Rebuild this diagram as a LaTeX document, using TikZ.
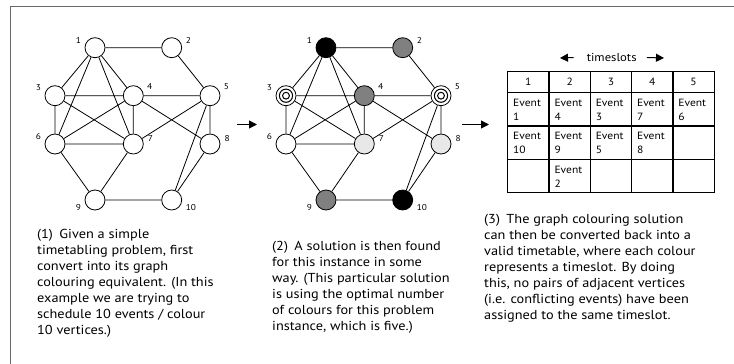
\documentclass[tikz,border=0pt]{standalone}
\usepackage{fontspec}
\setmainfont[FakeStretch=1.1]{PT Sans}
\usepackage{tikz}
\usetikzlibrary{arrows.meta,positioning,calc}
\definecolor{FrameGray}{RGB}{105,105,105}
\definecolor{MidGray}{RGB}{128,128,128}
\definecolor{PaleGray}{RGB}{232,232,232}

\begin{document}
\begin{tikzpicture}[
      x=1pt,y=-1pt,
      vtx/.style={circle,draw,line width=0.8pt,fill=white,
                  minimum size=20pt,inner sep=0pt},
      ringVtx/.style={vtx,path picture={%
          \draw[line width=1pt] (path picture bounding box.center)
            circle (6.6pt) circle (3.4pt);}},
      every label/.style={font=\fontsize{8.5}{9}\selectfont,inner sep=1pt},
      label distance=3pt,
      edgeLine/.style={line width=0.8pt},
      stepArrow/.style={-{Triangle[length=8pt,width=8pt]},line width=1pt},
      tabLine/.style={line width=1.4pt},
      cellTxt/.style={anchor=north west,align=left,inner sep=0pt,
                      font=\fontsize{10.5}{14}\selectfont},
      headTxt/.style={inner sep=0pt,font=\fontsize{10.5}{12}\selectfont},
      capTxt/.style={anchor=north west,align=left,inner sep=0pt,
                     font=\fontsize{13}{16}\selectfont}
    ]
    \useasboundingbox (0,0) rectangle (734,364);

    % Frame (top and left edges only)
    \draw[FrameGray,line width=1pt] (10,364) -- (10,6.5) -- (734,6.5);

    % Graph 1: the timetabling problem as a graph
    \node(a1)[vtx,label={165:1}] at (95,47.7) {};
    \node(a2)[vtx,label={15:2}] at (171.7,47.7) {};
    \node(a3)[vtx,label={165:3}] at (55,95.7) {};
    \node(a4)[vtx,label={20:4}] at (133.3,95.7) {};
    \node(a5)[vtx,label={20:5}] at (210,95.7) {};
    \node(a6)[vtx,label={165:6}] at (55,144) {};
    \node(a7)[vtx,label={5:7}] at (133.3,144) {};
    \node(a8)[vtx,label={5:8}] at (210,144) {};
    \node(a9)[vtx,label={195:9}] at (95,200) {};
    \node(a10)[vtx,label={-15:10}] at (171.7,200) {};

    \draw[edgeLine] (a1) -- (a2) (a1) -- (a3) (a1) -- (a4) (a1) -- (a6)
      (a1) -- (a7) (a2) -- (a5) (a3) -- (a4) (a3) -- (a6) (a3) -- (a7)
      (a4) -- (a5) (a4) -- (a6) (a4) -- (a7) (a4) -- (a8) (a5) -- (a7)
      (a5) -- (a8) (a5) -- (a10) (a6) -- (a7) (a6) -- (a9) (a7) -- (a9)
      (a8) -- (a10) (a9) -- (a10);

    % Graph 2: a five-colouring of the same graph
    \node(b1)[vtx,fill=black,label={165:1}] at (326,47.7) {};
    \node(b2)[vtx,fill=MidGray,label={15:2}] at (402.7,47.7) {};
    \node(b3)[ringVtx,label={165:3}] at (286,95.7) {};
    \node(b4)[vtx,fill=MidGray,label={20:4}] at (364.3,95.7) {};
    \node(b5)[ringVtx,label={20:5}] at (441,95.7) {};
    \node(b6)[vtx,label={165:6}] at (286,144) {};
    \node(b7)[vtx,fill=PaleGray,label={5:7}] at (364.3,144) {};
    \node(b8)[vtx,fill=PaleGray,label={5:8}] at (441,144) {};
    \node(b9)[vtx,fill=MidGray,label={195:9}] at (326,200) {};
    \node(b10)[vtx,fill=black,label={-15:10}] at (402.7,200) {};

    \draw[edgeLine] (b1) -- (b2) (b1) -- (b3) (b1) -- (b4) (b1) -- (b6)
      (b1) -- (b7) (b2) -- (b5) (b3) -- (b4) (b3) -- (b6) (b3) -- (b7)
      (b4) -- (b5) (b4) -- (b6) (b4) -- (b7) (b4) -- (b8) (b5) -- (b7)
      (b5) -- (b8) (b5) -- (b10) (b6) -- (b7) (b6) -- (b9) (b7) -- (b9)
      (b8) -- (b10) (b9) -- (b10);

    % Step arrows between the panels
    \coordinate (s1a) at (237,124.5);
    \coordinate (s1b) at (257,124.5);
    \coordinate (s2a) at (462,124.5);
    \coordinate (s2b) at (489,124.5);
    \draw[stepArrow] (s1a) -- (s1b);
    \draw[stepArrow] (s2a) -- (s2b);

    % Timetable
    \node(ts)[headTxt,font=\fontsize{11.5}{13}\selectfont] at (611.7,57.5) {timeslots};
    \coordinate (tsL) at (560,58);
    \coordinate (tsR) at (664,58);
    \draw[stepArrow] ([xshift=-13pt]ts.west) -- (tsL);
    \draw[stepArrow] ([xshift=10pt]ts.east) -- (tsR);

    \draw[tabLine] (507.7,71.7) rectangle (714.2,192.7);
    \draw[tabLine] (507.7,92.7) -- (714.2,92.7);
    \draw[tabLine] (507.7,126) -- (714.2,126);
    \draw[tabLine] (507.7,159.3) -- (714.2,159.3);
    \draw[tabLine] (549,71.7) -- (549,192.7);
    \draw[tabLine] (590.3,71.7) -- (590.3,192.7);
    \draw[tabLine] (631.6,71.7) -- (631.6,192.7);
    \draw[tabLine] (672.9,71.7) -- (672.9,192.7);

    \node(h1)[headTxt] at (528.3,82.2) {1};
    \node(h2)[headTxt] at (569.7,82.2) {2};
    \node(h3)[headTxt] at (611,82.2) {3};
    \node(h4)[headTxt] at (652.3,82.2) {4};
    \node(h5)[headTxt] at (693.5,82.2) {5};

    \node(e1)[cellTxt] at (513,99) {Event\\1};
    \node(e4)[cellTxt] at (554.3,99) {Event\\4};
    \node(e3)[cellTxt] at (595.6,99) {Event\\3};
    \node(e7)[cellTxt] at (636.9,99) {Event\\7};
    \node(e6)[cellTxt] at (678.2,99) {Event\\6};
    \node(e10)[cellTxt] at (513,132.3) {Event\\10};
    \node(e9)[cellTxt] at (554.3,132.3) {Event\\9};
    \node(e5)[cellTxt] at (595.6,132.3) {Event\\5};
    \node(e8)[cellTxt] at (636.9,132.3) {Event\\8};
    \node(e2)[cellTxt] at (554.3,165.6) {Event\\2};

    % Captions
    \node(c1)[capTxt] at (37,229) {%
      (1)\enspace Given a simple\\
      timetabling problem, first\\
      convert into its graph\\
      colouring equivalent. (In this\\
      example we are trying to\\
      schedule 10 events / colour\\
      10 vertices.)};
    \node(c2)[capTxt] at (272,241) {%
      (2)\enspace A solution is then found\\
      for this instance in some\\
      way. (This particular solution\\
      is using the optimal number\\
      of colours for this problem\\
      instance, which is five.)};
    \node(c3)[capTxt] at (484,214) {%
      (3)\enspace The graph colouring solution\\
      can then be converted back into a\\
      valid timetable, where each colour\\
      represents a timeslot. By doing\\
      this, no pairs of adjacent vertices\\
      (i.e. conflicting events) have been\\
      assigned to the same timeslot.};
  \end{tikzpicture}
\end{document}
